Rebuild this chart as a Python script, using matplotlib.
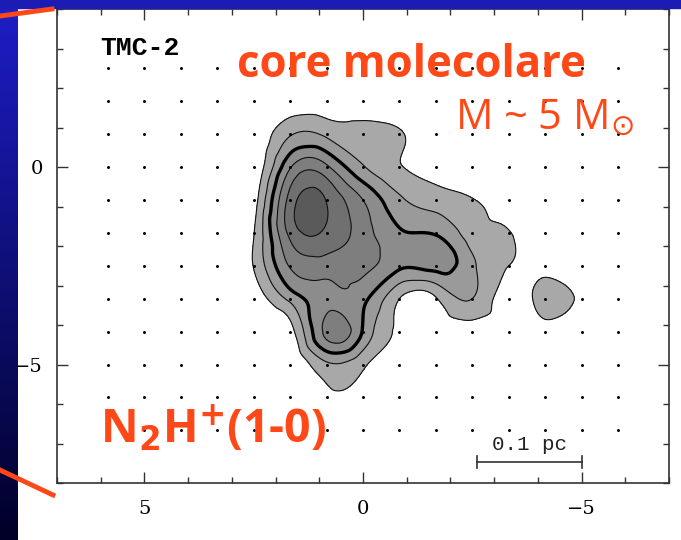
import matplotlib
matplotlib.use("Agg")
import matplotlib.pyplot as plt
import matplotlib.tri as mtri
from matplotlib.lines import Line2D
from matplotlib.patches import Rectangle
import numpy as np

# map grid (offsets in arcsec, 50" spacing), shown in arcmin
ra_off = [350, 300, 250, 200, 150, 100, 50, 0, -50, -100, -150, -200, -250, -300, -350]
dec_off = [150, 100, 50, 0, -50, -100, -150, -200, -250, -300, -350, -400]

# integrated N2H+ intensity at each grid point (contour units), rows = dec, cols = ra
intensity = [
    [0, 0, 0, 0, 0,    0,   0,    0,    0,    0,   0,    0,    0,   0,   0],
    [0, 0, 0, 0, 0,    0.2, 0.3,  0.2,  0,    0,   0,    0,    0,   0,   0],
    [0, 0, 0, 0, 0,    1.9, 1.8,  1.4,  1.1,  0.3, 0,    0,    0,   0,   0],
    [0, 0, 0, 0, 0.2,  3.9, 4.2,  2.1,  1.05, 0.6, 0.2,  0,    0,   0,   0],
    [0, 0, 0, 0, 0.5,  5.4, 5.95, 4.0,  2.2,  1.5, 1.05, 0.4,  0,   0,   0],
    [0, 0, 0, 0, 0.95, 5.3, 5.8,  4.5,  3.1,  2.9, 1.5,  1.05, 0,   0,   0],
    [0, 0, 0, 0, 1.05, 4.1, 4.5,  4.3,  3.2,  3.4, 2.2,  1.0,  0.5, 0,   0],
    [0, 0, 0, 0, 0.4,  2.3, 3.7,  3.3,  1.0,  0.9, 2.0,  0.5,  1.4, 0.7, 0],
    [0, 0, 0, 0, 0,    0.6, 4.3,  2.9,  0.7,  0.3, 0.5,  0.3,  0.5, 0,   0],
    [0, 0, 0, 0, 0,    0,   1.8,  1.2,  0,    0,   0,    0,    0,   0,   0],
    [0, 0, 0, 0, 0,    0,   0.75, 0.6,  0,    0,   0,    0,    0,   0,   0],
    [0, 0, 0, 0, 0,    0,   0,    0,    0,    0,   0,    0,    0,   0,   0],
]
levels = [1, 2, 3, 4, 5, 6, 100]
fill_colors = ['#a8a8a8', '#9a9a9a', '#8c8c8c', '#7e7e7e', '#707070', '#5a5a5a']

scale_bar_x = [-2.6, -5.0]
scale_bar_y = -7.47

W, H = 681, 540
red = '#ff4818'

def fx(px):
    return px / W

def fy(py):
    return 1 - py / H

fig = plt.figure(figsize=(W / 100, H / 100), dpi=100)
fig.patch.set_facecolor('white')

# blue slide background
fig.patches.append(Rectangle((0, fy(8)), 1, 8 / H, transform=fig.transFigure,
                             color='#1c1cb4', zorder=0))
bax = fig.add_axes([0, 0, fx(18), 1])
grad = np.linspace(0, 1, 256)[:, None]
top_c = np.array([30, 30, 200]) / 255
bot_c = np.array([0, 0, 40]) / 255
img = top_c[None, None, :] * (1 - grad[:, :, None]) + bot_c[None, None, :] * grad[:, :, None]
bax.imshow(img, aspect='auto', extent=[0, 1, 0, 1])
bax.axis('off')

ax = fig.add_axes([fx(57), fy(483), fx(669) - fx(57), fy(9) - fy(483)])

ra = np.array(ra_off) / 60.0
dec = np.array(dec_off) / 60.0
X, Y = np.meshgrid(ra, dec)
Z = np.array(intensity)

triang = mtri.Triangulation(X.ravel(), Y.ravel())
refiner = mtri.UniformTriRefiner(triang)
tri_f, z_f = refiner.refine_field(Z.ravel(), subdiv=4)

ax.tricontourf(tri_f, z_f, levels=levels, colors=fill_colors, zorder=1)
ax.tricontour(tri_f, z_f, levels=[1, 2, 4, 5, 6], colors='#111111', linewidths=0.8, zorder=2)
ax.tricontour(tri_f, z_f, levels=[3], colors='black', linewidths=2.4, zorder=2)

ax.plot(X.ravel(), Y.ravel(), 'k.', ms=2.3, zorder=3)

# scale bar
ax.plot(scale_bar_x, [scale_bar_y, scale_bar_y], color='#333333', lw=1.2)
for xb in scale_bar_x:
    ax.plot([xb, xb], [scale_bar_y - 0.15, scale_bar_y + 0.15], color='#333333', lw=1.2)
ax.text(np.mean(scale_bar_x), scale_bar_y + 0.2, '0.1 pc', ha='center', va='bottom',
        family='Liberation Mono', fontsize=15, color='#222222')

ax.set_xlim(7, -7)
ax.set_ylim(-8, 4)
ax.set_xticks([5, 0, -5])
ax.set_xticklabels(['5', '0', '\u22125'])
ax.set_yticks([0, -5])
ax.set_yticklabels(['0', '\u22125'])
ax.set_xticks(np.arange(-7, 8), minor=True)
ax.set_yticks(np.arange(-8, 5), minor=True)
ax.tick_params(which='both', direction='in', top=True, right=True, color='#333333', width=1)
ax.tick_params(which='major', length=8)
ax.tick_params(which='minor', length=4.5)
ax.tick_params(axis='x', pad=12)
ax.tick_params(axis='y', pad=10)
for lab in ax.get_xticklabels() + ax.get_yticklabels():
    lab.set_family('DejaVu Serif')
    lab.set_fontsize(14)
for s in ax.spines.values():
    s.set_color('#333333')
    s.set_linewidth(1.2)

fig.text(fx(100), fy(55), 'TMC-2', family='Liberation Mono', fontweight='bold',
         fontsize=19, ha='left', va='baseline')

fig.text(fx(237), fy(77), 'core molecolare', color=red, fontsize=31.5,
         family='Open Sans', fontweight='bold', ha='left', va='baseline')
fig.text(fx(455), fy(129), r'M ~ 5 M$_{\odot}$', color=red, fontsize=30,
         family='Open Sans', fontweight='medium', ha='left', va='baseline')
fig.text(fx(100), fy(443), r'N$_\mathbf{2}$H$^\mathbf{+}$(1-0)', color=red, fontsize=33.5,
         family='Open Sans', fontweight='bold', ha='left', va='baseline')

# red zoom lines from previous slide
fig.add_artist(Line2D([fx(0), fx(52)], [fy(16), fy(9)], color=red, lw=3.5,
                      transform=fig.transFigure))
fig.add_artist(Line2D([fx(0), fx(53)], [fy(470), fy(495)], color=red, lw=3.5,
                      transform=fig.transFigure))

fig.savefig('out.png', dpi=100)
